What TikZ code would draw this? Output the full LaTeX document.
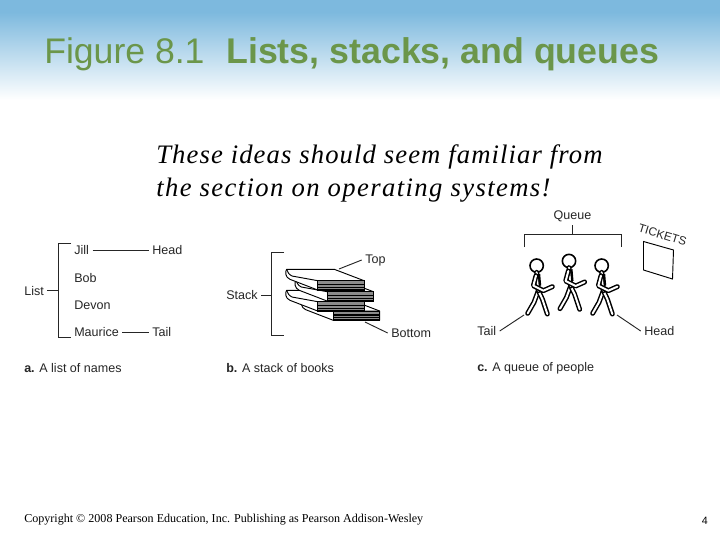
\documentclass[tikz,border=0pt]{standalone}
\usepackage{fontspec}
\setmainfont{Liberation Sans}
\newfontfamily\serifbody{Liberation Serif}
\newfontfamily\serifspaced[LetterSpace=4.2]{Liberation Serif}
\newfontfamily\serifwider[LetterSpace=5.2]{Liberation Serif}
\usetikzlibrary{calc, positioning}
\definecolor{skyband}{RGB}{125,185,222}
\definecolor{titlegreen}{RGB}{107,150,74}
\tikzset{
  label/.style={font=\fontsize{9.4pt}{11pt}\selectfont, inner sep=2.5pt, text=black!85, anchor=west},
  caption/.style={label, inner sep=0pt},
  link/.style={line width=0.7pt, black!85},
  limb/.style={line width=1.1pt, double=white, double distance=1.5pt, line cap=round, line join=round},
  bookpic/.pic={
    \filldraw[fill=white, line width=0.7pt, line join=round] (0,0) -- (143,0) -- (232,34) -- (232,62) -- (93,62)
      -- (10,30) .. controls (-5,24) and (-5,6) .. (0,0) -- cycle;
    \draw[line width=0.7pt] (0,0) .. controls (4,8) and (4,14) .. (16,20) -- (93,34) -- (232,34);
    \filldraw[fill=black!45, line width=0.7pt] (93,34) rectangle (232,62);
    \foreach \s in {46,54,60} {
      \draw[line width=0.9pt] (93,\s) -- (232,\s);
    }
  },
  walkerpic/.pic={
    \draw[line width=1.2pt, fill=white] (0,0) circle (20);
    \draw[limb] (5,75) -- (-8,110) -- (-27,143);
    \draw[limb] (5,75) -- (17,100) -- (32,145);
    \draw[limb] (0,20) -- (5,75);
    \draw[line width=1.8pt] (7,25) -- (10,60);
    \draw[limb] (-2,30) -- (-10,60) -- (20,75) -- (47,63);
  }
}
\begin{document}
\begin{tikzpicture}[x=0.75pt, y=-0.75pt]
    \useasboundingbox (0,0) rectangle (720,540);
    % Header band
    \fill[white] (0,0) rectangle (720,540);
    \fill[skyband] (0,0) rectangle (720,12);
    \fill[top color=skyband, bottom color=white] (0,12) rectangle (720,100);
    % Title
    \node[anchor=base west, inner sep=0pt, text=titlegreen, font=\fontsize{26.7pt}{30pt}\selectfont] (fignum) at (44,63) {Figure 8.1};
    \node[anchor=base west, inner sep=0pt, text=titlegreen, font=\fontsize{26.8pt}{30pt}\selectfont\bfseries] (figtitle) at (226,63) {Lists, stacks, and queues};
    % Remark
    \node[anchor=base west, inner sep=0pt, font=\serifspaced\itshape\fontsize{20pt}{24pt}\selectfont] (remarka) at (156,163) {These ideas should seem familiar from};
    \node[anchor=base west, inner sep=0pt, font=\serifwider\itshape\fontsize{20pt}{24pt}\selectfont] (remarkb) at (156,196) {the section on operating systems!};
    % List of names
    \foreach \n/\t/\py in {jill/Jill/250.5,bob/Bob/278,devon/Devon/305,maurice/Maurice/332} {
        \node[label] (\n) at (70.7,\py) {\t};
    }
    \node[label] (listhead) at (148.7,250.5) {Head};
    \node[label] (listtail) at (148.7,332) {Tail};
    \node[label] (list) at (20.7,291) {List};
    \draw[link] (jill) -- (listhead);
    \draw[link] (maurice) -- (listtail);
    \coordinate (lista) at (71,243.5);
    \coordinate (listb) at (71,337);
    \coordinate (listm) at (58.5,290.5);
    \draw[link] (lista) -- (58.5,243.5) -- (58.5,337) -- (listb);
    \draw[link] (list.east |- listm) -- (listm);
    \node[caption] (capa) at (24,368) {\textbf{a.} A list of names};
    % Stack of books
    \begin{scope}[shift={(215,235)}, scale=1/3]
        \foreach \bx/\by in {47/91,0/63,28/33,0/0} {
            \pic[transform shape] at ({215+\bx},{103+\by}) {bookpic};
        }
    \end{scope}
    \node[label] (stack) at (222.7,295) {Stack};
    \node[label] (stacktop) at (361.7,260) {Top};
    \node[label] (stackbot) at (387.7,333) {Bottom};
    \coordinate (stacka) at (284,252.5);
    \coordinate (stackb) at (284,335);
    \coordinate (stackm) at (271.5,295);
    \coordinate (topend) at (339,269);
    \coordinate (botend) at (365,322);
    \draw[link] (stacka) -- (271.5,252.5) -- (271.5,335) -- (stackb);
    \draw[link] (stack) -- (stackm);
    \draw[link] (topend) -- (stacktop.west);
    \draw[link] (botend) -- (stackbot.west);
    \node[caption] (capb) at (226,368) {\textbf{b.} A stack of books};
    % Queue of people
    \begin{scope}[shift={(465,200)}, scale=1/3]
        \foreach \hx/\hy in {215/197,312/183,410/197} {
            \pic[transform shape] at (\hx,\hy) {walkerpic};
        }
    \end{scope}
    \node[label, anchor=center] (queue) at (572.5,216) {Queue};
    \node[label] (queuetail) at (473.7,331) {Tail};
    \node[label] (queuehead) at (640.7,331) {Head};
    \coordinate (queuem) at (572.5,234.5);
    \coordinate (queuea) at (524.5,247);
    \coordinate (queueb) at (621.5,247);
    \coordinate (tailend) at (524,315);
    \coordinate (headend) at (617,315);
    \draw[link] (queuea) -- (524.5,234.5) -- (621.5,234.5) -- (queueb);
    \draw[link] (queue) -- (queuem);
    \draw[link] (tailend) -- (queuetail.east);
    \draw[link] (headend) -- (queuehead.west);
    \node[caption] (capc) at (477,368) {\textbf{c.} A queue of people};
    % Ticket window
    \draw[line width=0.7pt] (643.5,241.5) -- (673.5,250) -- (672.5,279) -- (643.5,270) -- cycle;
    \node[label, anchor=center, inner sep=0pt, rotate=-17, font=\fontsize{8.8pt}{11pt}\selectfont] (tickets) at (662.5,235) {TICKETS};
    % Footer
    \node[anchor=base west, inner sep=0pt, font=\serifbody\fontsize{9.05pt}{11pt}\selectfont] (copyright) at (24,522) {Copyright © 2008 Pearson Education, Inc. Publishing as Pearson Addison-Wesley};
    \node[anchor=base east, inner sep=0pt, font=\fontsize{8pt}{10pt}\selectfont] (pagenum) at (708,524) {4};
\end{tikzpicture}
\end{document}
